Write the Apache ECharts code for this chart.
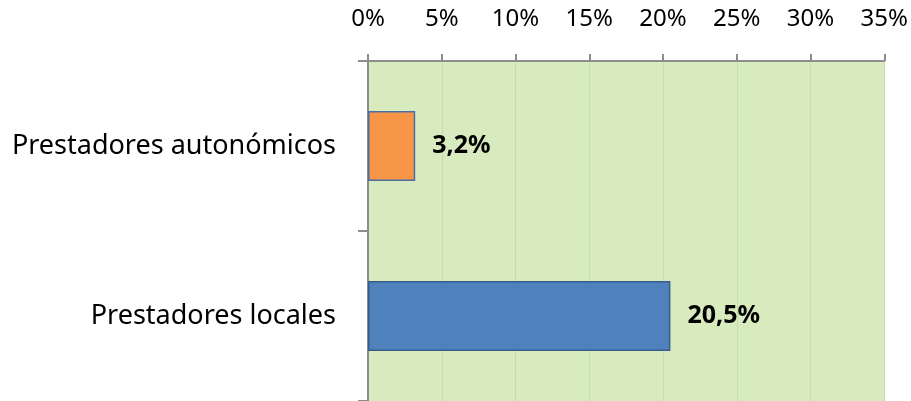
<!DOCTYPE html>
<html><head><meta charset="utf-8">
<script src="https://cdn.jsdelivr.net/npm/echarts@6/dist/echarts.min.js"></script>
<style>html,body{margin:0;padding:0;background:#fff}#c{width:911px;height:401px}</style>
</head><body><div id="c"></div>
<script>
const categories = ['Prestadores autonómicos', 'Prestadores locales'];
const values = [3.2, 20.5];
const barColors = ['#F79646', '#4F81BD'];
const barBorders = ['#4A6FA5', '#385D8A'];
const tickMax = 35, tickStep = 5;

const chart = echarts.init(document.getElementById('c'));
chart.setOption({
  animation: false,
  textStyle: { fontFamily: 'Noto Sans' },
  grid: { left: 368, right: 26, top: 61, bottom: -2, show: true, backgroundColor: '#D7EBBE', borderWidth: 0 },
  xAxis: {
    type: 'value', position: 'top', min: 0, max: tickMax, interval: tickStep,
    axisLine: { show: true, lineStyle: { color: '#8C8C8C', width: 2 } },
    axisTick: { show: true, length: 7, lineStyle: { color: '#8C8C8C', width: 2 } },
    splitLine: { show: true, lineStyle: { color: '#C6DBAE', width: 1 } },
    axisLabel: { formatter: v => v + '%', color: '#000', fontSize: 24, margin: 30 }
  },
  yAxis: {
    type: 'category', data: categories, inverse: true,
    axisLine: { show: true, lineStyle: { color: '#8C8C8C', width: 2 } },
    axisTick: { show: true, length: 10, lineStyle: { color: '#8C8C8C', width: 2 } },
    axisLabel: { color: '#000', fontSize: 27, margin: 32 }
  },
  series: [{
    type: 'bar', barWidth: 70,
    data: values.map((v, i) => ({ value: v, itemStyle: { color: barColors[i], borderColor: barBorders[i], borderWidth: 1.5 } })),
    label: { show: true, position: 'right', distance: 17, formatter: p => p.value.toFixed(1).replace('.', ',') + '%', fontWeight: 'bold', fontSize: 25, color: '#000' }
  }]
});
</script></body></html>
